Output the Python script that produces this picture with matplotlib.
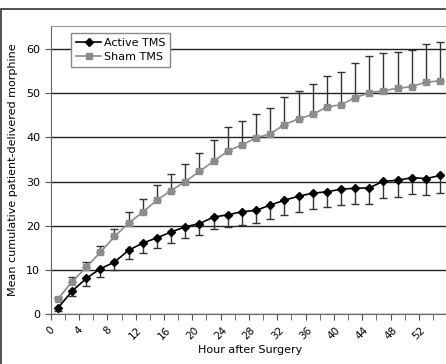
import numpy as np
import matplotlib
matplotlib.use("Agg")
import matplotlib.pyplot as plt
from matplotlib.patches import Rectangle

# %%
hours = list(range(1, 56, 2))

active = [1.4, 5.2, 8.1, 10.3, 11.8, 14.5, 16.1, 17.3, 18.6, 19.8, 20.5, 22.0, 22.5, 23.2,
          23.5, 24.7, 25.8, 26.7, 27.4, 27.7, 28.3, 28.5, 28.6, 30.1, 30.3, 30.9, 30.7, 31.4]
active_err = [0.7, 1.1, 1.7, 1.8, 1.8, 2.0, 2.2, 2.4, 2.5, 2.6, 2.6, 2.8, 2.8, 2.9,
              2.9, 3.1, 3.3, 3.6, 3.5, 3.5, 3.6, 3.6, 3.6, 3.8, 3.8, 3.8, 3.8, 4.0]

sham = [3.4, 7.4, 10.6, 14.0, 17.6, 20.6, 23.1, 25.8, 28.0, 30.0, 32.3, 34.6, 36.9, 38.3,
        39.9, 40.8, 42.9, 44.2, 45.2, 46.9, 47.4, 49.0, 50.1, 50.6, 51.1, 51.5, 52.5, 52.8]
sham_err = [0.6, 1.1, 1.3, 1.4, 1.8, 2.6, 3.0, 3.5, 3.8, 4.1, 4.2, 4.9, 5.5, 5.5,
            5.5, 5.8, 6.3, 6.4, 6.9, 7.1, 7.5, 7.9, 8.4, 8.4, 8.3, 8.3, 8.7, 8.7]

xticks = list(range(0, 53, 4))

# %%
plt.rcParams['font.family'] = ['DejaVu Sans']
fig = plt.figure(figsize=(4.46, 3.64), dpi=100)
fig.patch.set_facecolor('white')

# outer chart frame
fig.patches.append(Rectangle((0.002, -0.05), 1.2, 1.025, transform=fig.transFigure,
                             fill=False, edgecolor='#333333', linewidth=1.2))

# plot area runs past the right edge of the picture (cut off like the original)
ax = fig.add_axes([0.1137, 0.1365, 0.8953, 0.792])

ax.errorbar(hours, sham, yerr=[np.zeros(len(sham)), sham_err], fmt='none',
            ecolor='#333333', elinewidth=1.0, capsize=3, capthick=1.0, zorder=2)
ax.errorbar(hours, active, yerr=[active_err, np.zeros(len(active))], fmt='none',
            ecolor='#333333', elinewidth=1.0, capsize=3, capthick=1.0, zorder=2)

ax.plot(hours, active, color='black', marker='D', markersize=3.8, linewidth=1.2,
        label='Active TMS', zorder=4)
ax.plot(hours, sham, color='#8c8c8c', marker='s', markersize=4.3, linewidth=1.2,
        label='Sham TMS', zorder=3)

ax.set_xlim(0, 56.4)
ax.set_ylim(0, 65.2)
ax.set_yticks(range(0, 61, 10))
ax.set_xticks(xticks)
ax.set_xticks(range(0, 56, 2), minor=True)
ax.set_xticklabels([str(t) for t in xticks], rotation=45, fontsize=7.5)
ax.tick_params(axis='y', labelsize=8, length=4, color='#555555')
ax.tick_params(axis='x', which='both', length=4, color='#555555')

ax.yaxis.grid(True, color='#222222', linewidth=1.0)
ax.set_axisbelow(True)

for side in ['top', 'right']:
    ax.spines[side].set_color('#999999')
ax.spines['left'].set_color('#666666')
ax.spines['bottom'].set_color('#666666')

ax.set_xlabel('Hour after Surgery', fontsize=8, labelpad=3)
ax.set_ylabel('Mean cumulative patient-delivered morphine', fontsize=8, labelpad=6)

leg = ax.legend(loc='upper left', bbox_to_anchor=(0.052, 0.975), fontsize=8,
                frameon=True, fancybox=False, handlelength=2.3, handletextpad=0.2,
                borderpad=0.4, labelspacing=0.4, borderaxespad=0)
leg.get_frame().set_edgecolor('#888888')
leg.get_frame().set_linewidth(1.0)
leg.get_frame().set_alpha(1)

fig.savefig('out.png', dpi=100)
